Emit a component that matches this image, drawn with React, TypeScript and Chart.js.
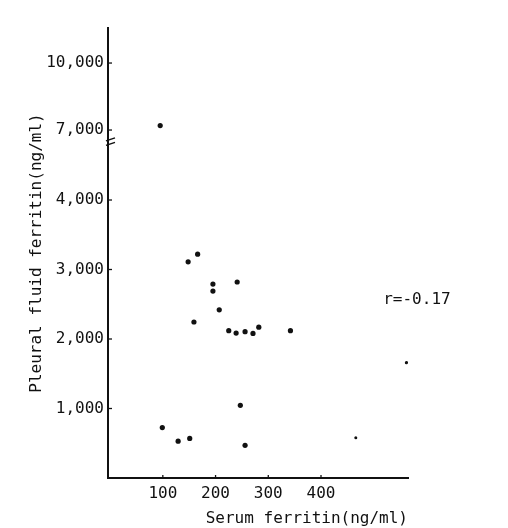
import React, { useEffect, useRef } from "react";
import { Chart, registerables } from "chart.js";

Chart.register(...registerables);

// Serum ferritin (ng/ml)
const serumFerritin = [95, 148, 166, 195, 195, 241, 207, 159, 225, 239, 256, 271, 282, 342, 247, 99, 129, 151, 256, 466, 562];
// Pleural fluid ferritin (ng/ml)
const pleuralFerritin = [7200, 3110, 3220, 2790, 2690, 2820, 2420, 2245, 2120, 2085, 2105, 2080, 2170, 2120, 1045, 725, 530, 570, 470, 580, 1660];
const pointSizes = [2.6, 2.6, 2.6, 2.6, 2.6, 2.6, 2.6, 2.6, 2.6, 2.6, 2.6, 2.6, 2.6, 2.6, 2.6, 2.6, 2.6, 2.6, 2.6, 1.5, 1.6];

const xTicks = [100, 200, 300, 400];
const yTicks = [1000, 2000, 3000, 4000, 7000, 10000];
const yTickLabels = ["1,000", "2,000", "3,000", "4,000", "7,000", "10,000"];
const annotationText = "r=-0.17";
const annotationX = 518;
const annotationY = 2560;

// broken axis: values above the break are compressed
const BREAK_LOW = 5000;
const UPPER_REF = 7000;
const UPPER_REF_DISPLAY = 5007;
const UPPER_FACTOR = 0.3213;
const BREAK_DISPLAY = 4840;
const toDisplay = (v: number) => (v <= BREAK_LOW ? v : UPPER_REF_DISPLAY + (v - UPPER_REF) * UPPER_FACTOR);

const FONT = "'DejaVu Sans Mono', monospace";
const FS = 16;

export default function App() {
  const ref = useRef<HTMLCanvasElement | null>(null);
  useEffect(() => {
    if (!ref.current) return;
    const data = serumFerritin.map((x, i) => ({ x, y: toDisplay(pleuralFerritin[i]) }));
    const displayTicks = yTicks.map(toDisplay);

    const extras = {
      id: "extras",
      afterDraw(chart: any) {
        const ctx = chart.ctx;
        const xs = chart.scales.x;
        const ys = chart.scales.y;
        const ax = chart.chartArea.left;
        const ay = chart.chartArea.bottom;
        ctx.save();
        ctx.strokeStyle = "#111";
        ctx.lineWidth = 1.3;
        // inward ticks
        displayTicks.forEach((t) => {
          const py = ys.getPixelForValue(t);
          ctx.beginPath();
          ctx.moveTo(ax, py);
          ctx.lineTo(ax + 4, py);
          ctx.stroke();
        });
        xTicks.forEach((t) => {
          const px = xs.getPixelForValue(t);
          ctx.beginPath();
          ctx.moveTo(px, ay);
          ctx.lineTo(px, ay - 3);
          ctx.stroke();
        });
        // break marks
        const by = ys.getPixelForValue(BREAK_DISPLAY);
        ctx.lineWidth = 1.4;
        [-2.2, 2.2].forEach((d) => {
          ctx.beginPath();
          ctx.moveTo(ax - 2, by + d + 1.5);
          ctx.lineTo(ax + 7, by + d - 1.5);
          ctx.stroke();
        });
        // annotation
        ctx.fillStyle = "#111";
        ctx.font = `${FS}px ${FONT}`;
        ctx.textAlign = "left";
        ctx.textBaseline = "middle";
        ctx.fillText(annotationText, xs.getPixelForValue(annotationX), ys.getPixelForValue(annotationY));
        ctx.restore();
      },
    };

    const chart = new Chart(ref.current, {
      type: "scatter",
      data: {
        datasets: [
          {
            data,
            backgroundColor: "#111",
            borderColor: "#111",
            pointRadius: pointSizes,
            pointHoverRadius: pointSizes,
            borderWidth: 0,
          },
        ],
      },
      options: {
        animation: false,
        responsive: true,
        maintainAspectRatio: false,
        layout: { padding: { top: 28, right: 100, left: 0, bottom: 0 } },
        plugins: { legend: { display: false }, tooltip: { enabled: false } },
        scales: {
          x: {
            type: "linear",
            min: -4,
            max: 565,
            afterFit: (s: any) => {
              s.height = 50;
            },
            afterBuildTicks: (s: any) => {
              s.ticks = xTicks.map((v) => ({ value: v }));
            },
            grid: { display: false, drawTicks: false },
            border: { display: true, color: "#111", width: 2 },
            ticks: {
              color: "#111",
              font: { family: FONT, size: FS },
              padding: 6,
              maxRotation: 0,
              autoSkip: false,
              callback: (v: any) => String(v),
            },
            title: {
              display: true,
              text: "Serum ferritin(ng/ml)",
              align: "end",
              color: "#111",
              font: { family: FONT, size: FS },
              padding: { top: 0, bottom: 0 },
            },
          },
          y: {
            type: "linear",
            min: 0,
            max: 6475,
            afterFit: (s: any) => {
              s.width = 108;
            },
            afterBuildTicks: (s: any) => {
              s.ticks = displayTicks.map((v) => ({ value: v }));
            },
            grid: { display: false, drawTicks: false },
            border: { display: true, color: "#111", width: 2 },
            ticks: {
              color: "#111",
              font: { family: FONT, size: FS },
              padding: 4,
              autoSkip: false,
              callback: (v: any) => {
                const i = displayTicks.findIndex((t) => Math.abs(t - v) < 1e-6);
                return i >= 0 ? yTickLabels[i] : "";
              },
            },
            title: {
              display: true,
              text: "Pleural fluid ferritin(ng/ml)",
              color: "#111",
              font: { family: FONT, size: FS },
              padding: { top: 27, bottom: 0 },
            },
          },
        },
      },
      plugins: [extras],
    });
    return () => chart.destroy();
  }, []);

  return (
    <div style={{ position: "fixed", left: 0, top: 0, width: 508, height: 528, background: "#fff" }}>
      <canvas ref={ref} />
    </div>
  );
}
